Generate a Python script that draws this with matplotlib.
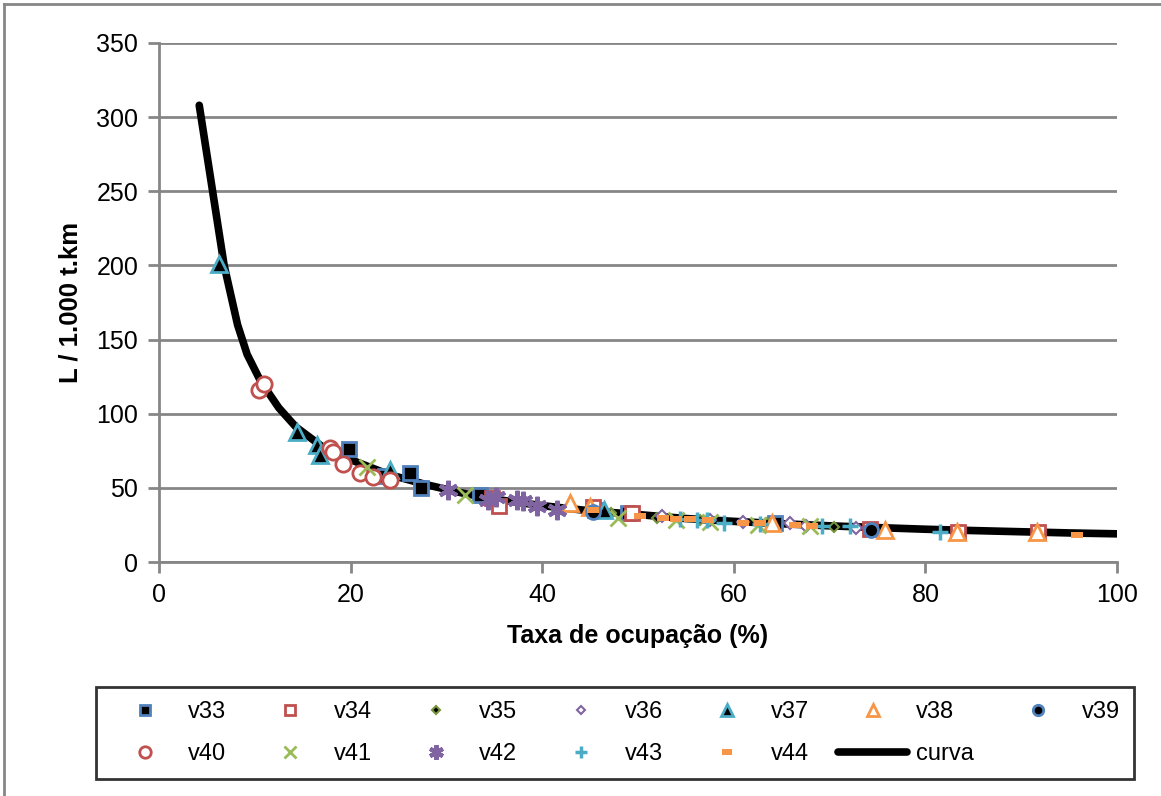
import matplotlib
matplotlib.use("Agg")
import matplotlib.pyplot as plt
from matplotlib.lines import Line2D
from matplotlib.path import Path

plt.rcParams['font.family'] = ['Liberation Sans', 'DejaVu Sans']

# fitted curve
curva_x = [4.2, 6.8, 8.2, 9.2, 10.6, 12.5, 14.3, 17, 20, 24, 28, 32, 36, 40,
           45, 50, 55, 60, 65, 70, 75, 80, 85, 90, 95, 100]
curva_y = [308, 200, 160, 140, 122, 104, 91, 78, 69, 59, 52, 46, 41.5, 38,
           34.5, 32, 29.3, 27.4, 25.8, 24.4, 23.2, 22.1, 21.2, 20.4, 19.6, 19]

# measured points per vehicle
v33_x = [19.8, 23.6, 26.2, 27.3, 33.5, 45.5, 49.0, 64.3]
v33_y = [76, 58, 60, 50, 45, 35, 33, 26]
v34_x = [34.8, 35.5, 45.3, 49.4, 74.2, 83.4, 91.8]
v34_y = [43, 38, 37, 33, 22, 20.5, 20]
v35_x = [47.2, 52.0, 56.5, 63.5, 70.5]
v35_y = [33, 30, 28.5, 26, 23.6]
v36_x = [52.5, 57.5, 61.0, 65.9, 67.5, 72.8]
v36_y = [31, 28, 27, 26, 24.5, 23]
v37_x = [6.3, 14.4, 16.5, 16.8, 24.1, 46.5]
v37_y = [201, 88, 79, 72, 62, 35]
v38_x = [42.9, 45.0, 64.0, 75.8, 83.3, 91.6]
v38_y = [39.5, 37, 26, 21.6, 20.5, 20]
v39_x = [45.3, 74.3]
v39_y = [34, 21.5]
v40_x = [10.4, 11.0, 17.8, 18.2, 19.2, 21.0, 22.3, 24.1]
v40_y = [116, 120, 77, 74, 66, 60, 57, 55]
v41_x = [21.7, 31.9, 47.9, 54.0, 57.5, 62.5, 68.0]
v41_y = [64, 45, 30, 28, 27, 25, 24]
v42_x = [30.2, 34.3, 35.2, 37.4, 38.0, 39.5, 41.5]
v42_y = [48.5, 42, 44, 42, 41, 37.5, 35]
v43_x = [54.4, 56.2, 57.2, 59.0, 62.7, 69.2, 72.1, 81.5]
v43_y = [29, 28.5, 28.5, 26.5, 25.5, 24, 24, 20.5]
v44_x = [45.3, 50.2, 52.6, 54.0, 55.4, 57.3, 61.0, 62.7, 66.4, 68.2, 95.8]
v44_y = [35, 31, 30, 29, 29, 28, 26.5, 26, 25, 24.5, 18]

blue = '#4F81BD'
red = '#C0504D'
green = '#9BBB59'
purple = '#8064A2'
aqua = '#4BACC6'
orange = '#F79646'

dash = Path([(-1, -0.55), (1, -0.55), (1, 0.55), (-1, 0.55), (-1, -0.55)],
            [Path.MOVETO, Path.LINETO, Path.LINETO, Path.LINETO, Path.CLOSEPOLY])

series = [
    ('v33', v33_x, v33_y, dict(marker='s', mfc='black', mec=blue, ms=10, mew=2)),
    ('v34', v34_x, v34_y, dict(marker='s', mfc='white', mec=red, ms=10, mew=2)),
    ('v35', v35_x, v35_y, dict(marker='D', mfc='black', mec='#77933C', ms=5, mew=1.5)),
    ('v36', v36_x, v36_y, dict(marker='D', mfc='white', mec=purple, ms=6, mew=1.5)),
    ('v37', v37_x, v37_y, dict(marker='^', mfc='black', mec=aqua, ms=11, mew=2)),
    ('v38', v38_x, v38_y, dict(marker='^', mfc='white', mec=orange, ms=11, mew=2)),
    ('v39', v39_x, v39_y, dict(marker='o', mfc='black', mec=blue, ms=10, mew=2)),
    ('v40', v40_x, v40_y, dict(marker='o', mfc='white', mec=red, ms=11, mew=2)),
    ('v41', v41_x, v41_y, dict(marker='x', color=green, ms=11, mew=2)),
    ('v42', v42_x, v42_y, dict(marker=(6, 2, 0), color=purple, ms=14, mew=3)),
    ('v43', v43_x, v43_y, dict(marker='+', color=aqua, ms=12, mew=2.5)),
    ('v44', v44_x, v44_y, dict(marker=dash, color=orange, mec=orange, ms=9, mew=0)),
]

fig = plt.figure(figsize=(11.61, 7.96), dpi=100)
ax = fig.add_axes([159 / 1161, 1 - 562 / 796, (1117 - 159) / 1161, (562 - 43) / 796])

curve_line, = ax.plot(curva_x, curva_y, color='black', lw=5.5, solid_capstyle='round',
                      solid_joinstyle='round', zorder=2, label='curva')

handles = {}
for name, xs, ys, style in series:
    h, = ax.plot(xs, ys, ls='none', zorder=3, label=name, **style)
    handles[name] = h
handles['curva'] = curve_line

ax.set_xlim(0, 100)
ax.set_ylim(0, 350)
ax.set_xticks(range(0, 101, 20))
ax.set_yticks(range(0, 351, 50))
ax.grid(axis='y', color='#868686', lw=2)
ax.set_axisbelow(True)
for s in ['top', 'right']:
    ax.spines[s].set_visible(False)
for s in ['left', 'bottom']:
    ax.spines[s].set_color('#868686')
    ax.spines[s].set_linewidth(2)
ax.tick_params(direction='out', length=8, width=2, color='#868686',
               labelsize=18, pad=7)
ax.set_xlabel('Taxa de ocupação (%)', fontsize=18, fontweight='bold', labelpad=12)
ax.set_ylabel('L / 1.000 t.km', fontsize=18.5, fontweight='bold', labelpad=10)

# two-row legend, filled column by column
order = ['v33', 'v40', 'v34', 'v41', 'v35', 'v42', 'v36', 'v43', 'v37', 'v44',
         'v38', 'curva', 'v39']
leg = fig.legend([handles[k] for k in order], order, ncol=7, loc='center',
                 bbox_to_anchor=(615 / 1161, 1 - 733 / 796), fontsize=17,
                 frameon=True, fancybox=False, edgecolor='black', markerscale=0.75,
                 handlelength=2.9, handletextpad=0.4, columnspacing=1.25,
                 borderpad=0.6, labelspacing=0.85)
leg.get_frame().set_linewidth(2)

# chart area border
fig.add_artist(Line2D([4 / 1161, 4 / 1161], [0, 1 - 4 / 796], color='#868686', lw=2))
fig.add_artist(Line2D([4 / 1161, 1], [1 - 4 / 796, 1 - 4 / 796], color='#868686', lw=2))

fig.savefig('out.png', dpi=100)
